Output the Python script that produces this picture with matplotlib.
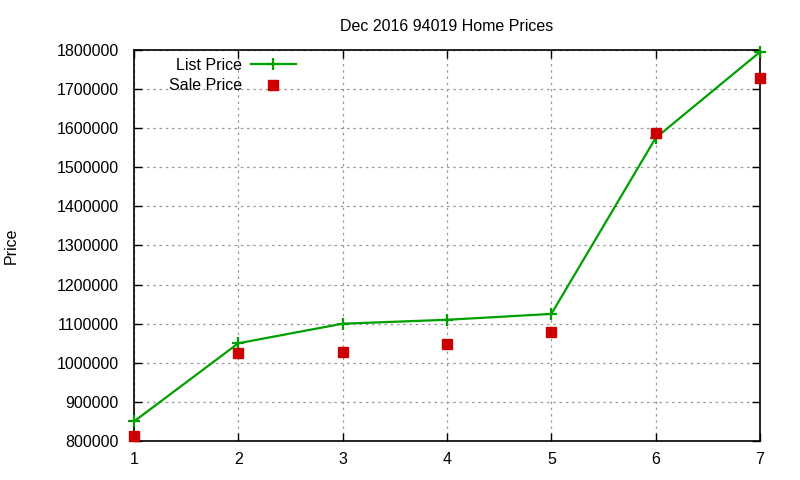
import matplotlib
matplotlib.use("Agg")
import matplotlib.pyplot as plt
import matplotlib.ticker as mticker

plt.rcParams["font.family"] = ["Liberation Sans", "DejaVu Sans"]

months = [1, 2, 3, 4, 5, 6, 7]
list_price = [850000, 1050000, 1100000, 1110000, 1125000, 1575000, 1795000]
sale_price = [813000, 1025000, 1027000, 1047000, 1080000, 1588000, 1728000]

fig = plt.figure(figsize=(8, 4.8), dpi=100)
ax = fig.add_axes([0.1675, 0.08125, 0.7825, 0.8146])

ax.plot(months, list_price, color="#00a000", linewidth=1.6, marker="+",
        markersize=9, markeredgewidth=1.6, label="List Price", clip_on=False, zorder=3)
ax.plot(months, sale_price, linestyle="none", color="#cc0000", marker="s",
        markersize=6.5, label="Sale Price", clip_on=False, zorder=4)

ax.set_xlim(1, 7)
ax.set_ylim(800000, 1800000)
ax.yaxis.set_major_locator(mticker.MultipleLocator(100000))
ax.xaxis.set_major_locator(mticker.MultipleLocator(1))
ax.yaxis.set_major_formatter(mticker.FuncFormatter(lambda v, _: f"{v:.0f}"))

ax.grid(True, color="#999999", linestyle=(0, (2, 3)), linewidth=0.9)
ax.tick_params(direction="in", top=True, right=True, length=6, width=1,
               labelsize=11.5)
ax.tick_params(axis="y", pad=11)
ax.tick_params(axis="x", pad=8)
for s in ax.spines.values():
    s.set_linewidth(1.2)

ax.set_title("Dec 2016 94019 Home Prices", fontsize=11.5, pad=14)
ax.set_ylabel("Price", fontsize=11.5, labelpad=27)

leg = ax.legend(loc="upper left", frameon=False, markerfirst=False, fontsize=11.5,
                handlelength=2.85, handletextpad=0.55, borderaxespad=0.2,
                labelspacing=0.35, bbox_to_anchor=(0.04, 1.005))
for t in leg.get_texts():
    t.set_ha("right")

fig.savefig("out.png", dpi=100)
